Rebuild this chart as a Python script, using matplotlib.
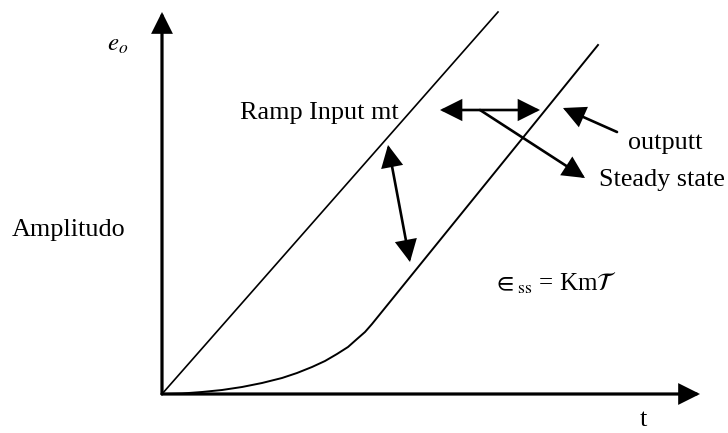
import matplotlib.pyplot as plt
from matplotlib.patches import FancyArrowPatch

# chart values, in drawing units (origin at the axes corner, y up)
ramp_t = [0, 336]
ramp_y = [0, 382]

output_t = [0, 20, 40, 60, 80, 100, 120, 135, 150, 163, 175, 186, 195, 203, 210, 436]
output_y = [0, 0.5, 2, 4, 7, 11, 16, 21, 27, 33, 40, 47, 55, 62, 70, 349]

axis_x_end = 538
axis_y_end = 382

# annotation arrows: (start, end, two-headed)
arrows = [
    ((248, 132), (226, 249), True),   # gap between ramp and output
    ((278, 284), (378, 284), True),   # horizontal steady-state gap
    ((318, 284), (423, 216), False),  # pointer to "Steady state"
    ((455, 262), (401, 286), False),  # pointer from "outputt"
]

labels = [
    ("Ramp Input mt", 78, 281, "left"),
    ("outputt", 466, 251, "left"),
    ("Steady state", 437, 214, "left"),
    ("Amplitudo", -37, 164, "right"),
    ("t", 481, -26, "center"),
]

plt.rcParams['font.family'] = ['Liberation Serif', 'DejaVu Serif']
plt.rcParams['mathtext.fontset'] = 'stix'

fig = plt.figure(figsize=(7.28, 4.33), dpi=100)
ax = fig.add_axes([0, 0, 1, 1])
ax.set_xlim(-162, 566)
ax.set_ylim(-39, 394)
ax.axis('off')


def arrow(p0, p1, both=False, lw=1.9, hl=13, hw=6.5):
    style = '<|-|>' if both else '-|>'
    style += f',head_length={hl},head_width={hw}'
    ax.add_patch(FancyArrowPatch(p0, p1, arrowstyle=style, mutation_scale=1,
                                 lw=lw, color='black', shrinkA=0, shrinkB=0,
                                 joinstyle='miter'))


# axes
arrow((0, 0), (axis_x_end, 0), lw=2.3, hl=12, hw=6)
arrow((0, 0), (0, axis_y_end), lw=2.3, hl=12, hw=6)

# ramp input and output
ax.plot(ramp_t, ramp_y, color='black', lw=1.2)
ax.plot(output_t, output_y, color='black', lw=1.4)

for p0, p1, both in arrows:
    arrow(p0, p1, both)

for txt, x, y, ha in labels:
    ax.text(x, y, txt, fontsize=18.8, ha=ha, va='center')

ax.text(-44, 349, r'$e_o$', fontsize=18, ha='center', va='center')
ax.text(331, 111, r'$\in_{\mathrm{ss}}$ = Km$\mathcal{T}$', fontsize=18,
        ha='left', va='center')

fig.savefig('out.png', dpi=100)
